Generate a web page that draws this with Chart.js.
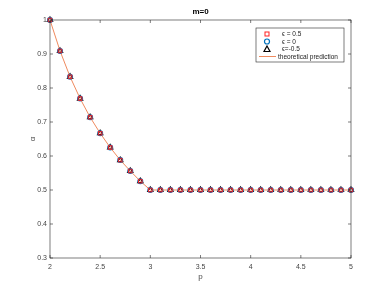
<!DOCTYPE html>
<html>
<head>
<meta charset="utf-8">
<script src="https://cdn.jsdelivr.net/npm/chart.js@4"></script>
<style>
  html, body { margin: 0; padding: 0; background: #fff; }
  #wrap { width: 388px; height: 291px; }
</style>
</head>
<body>
<div id="wrap"><canvas id="chart"></canvas></div>
<script>
// p values and measured alpha for each epsilon
const pValues = [2, 2.1, 2.2, 2.3, 2.4, 2.5, 2.6, 2.7, 2.8, 2.9, 3, 3.1, 3.2, 3.3, 3.4, 3.5,
  3.6, 3.7, 3.8, 3.9, 4, 4.1, 4.2, 4.3, 4.4, 4.5, 4.6, 4.7, 4.8, 4.9, 5];
const alphaEpsPos = [1, 0.909, 0.833, 0.769, 0.714, 0.667, 0.625, 0.588, 0.556, 0.526, 0.5, 0.5,
  0.5, 0.5, 0.5, 0.5, 0.5, 0.5, 0.5, 0.5, 0.5, 0.5, 0.5, 0.5, 0.5, 0.5, 0.5, 0.5, 0.5, 0.5, 0.5];
const alphaEpsZero = [1, 0.909, 0.833, 0.769, 0.714, 0.667, 0.625, 0.588, 0.556, 0.526, 0.5, 0.5,
  0.5, 0.5, 0.5, 0.5, 0.5, 0.5, 0.5, 0.5, 0.5, 0.5, 0.5, 0.5, 0.5, 0.5, 0.5, 0.5, 0.5, 0.5, 0.5];
const alphaEpsNeg = [1, 0.909, 0.833, 0.769, 0.714, 0.667, 0.625, 0.588, 0.556, 0.526, 0.5, 0.5,
  0.5, 0.5, 0.5, 0.5, 0.5, 0.5, 0.5, 0.5, 0.5, 0.5, 0.5, 0.5, 0.5, 0.5, 0.5, 0.5, 0.5, 0.5, 0.5];
const theoryAlpha = [1, 0.909, 0.833, 0.769, 0.714, 0.667, 0.625, 0.588, 0.556, 0.526, 0.5, 0.5,
  0.5, 0.5, 0.5, 0.5, 0.5, 0.5, 0.5, 0.5, 0.5, 0.5, 0.5, 0.5, 0.5, 0.5, 0.5, 0.5, 0.5, 0.5, 0.5];
const seriesLabels = ["\u03f5 = 0.5", "\u03f5 = 0", "\u03f5=-0.5", "theoretical prediction"];
const xTicks = [2, 2.5, 3, 3.5, 4, 4.5, 5];
const yTicks = [0.3, 0.4, 0.5, 0.6, 0.7, 0.8, 0.9, 1];

const FONT = "Liberation Sans, Arial, sans-serif";
const pts = (ys) => pValues.map((p, i) => ({ x: p, y: ys[i] }));
const fmt = (v) => String(Math.round(v * 10) / 10);

// box around the axes + inward ticks + title + legend, matlab style
const matlabFrame = {
  id: "matlabFrame",
  afterDraw(chart) {
    const { ctx, chartArea: a, scales } = chart;
    ctx.save();
    ctx.strokeStyle = "#262626";
    ctx.lineWidth = 0.6;
    ctx.strokeRect(a.left, a.top, a.right - a.left, a.bottom - a.top);
    ctx.beginPath();
    xTicks.forEach((v) => {
      const x = scales.x.getPixelForValue(v);
      ctx.moveTo(x, a.bottom); ctx.lineTo(x, a.bottom - 3);
      ctx.moveTo(x, a.top); ctx.lineTo(x, a.top + 3);
    });
    yTicks.forEach((v) => {
      const y = scales.y.getPixelForValue(v);
      ctx.moveTo(a.left, y); ctx.lineTo(a.left + 3, y);
      ctx.moveTo(a.right, y); ctx.lineTo(a.right - 3, y);
    });
    ctx.stroke();

    // title
    ctx.fillStyle = "#000";
    ctx.font = "bold 8px " + FONT;
    ctx.textAlign = "center";
    ctx.textBaseline = "middle";
    ctx.fillText("m=0", (a.left + a.right) / 2, 12);

    // legend
    const lx = 256, ly = 28, lw = 88, lh = 34;
    ctx.fillStyle = "#fff";
    ctx.fillRect(lx, ly, lw, lh);
    ctx.strokeStyle = "#262626";
    ctx.lineWidth = 0.6;
    ctx.strokeRect(lx, ly, lw, lh);
    ctx.font = "6.5px " + FONT;
    ctx.textAlign = "left";
    const rowY = [ly + 6, ly + 13.5, ly + 21, ly + 28.5];
    chart.data.datasets.forEach((ds, i) => {
      const y = rowY[i];
      const cx = lx + 11;
      ctx.strokeStyle = ds.borderColor;
      ctx.lineWidth = ds.pointBorderWidth || 1;
      if (ds.pointStyle === "rect") {
        ctx.strokeRect(cx - 2, y - 2, 4, 4);
      } else if (ds.pointStyle === "circle") {
        ctx.beginPath(); ctx.arc(cx, y, 2.5, 0, Math.PI * 2); ctx.stroke();
      } else if (ds.pointStyle === "triangle") {
        ctx.beginPath();
        ctx.moveTo(cx, y - 3); ctx.lineTo(cx + 3, y + 2.5); ctx.lineTo(cx - 3, y + 2.5);
        ctx.closePath(); ctx.stroke();
      } else {
        ctx.lineWidth = 1;
        ctx.beginPath(); ctx.moveTo(lx + 3, y); ctx.lineTo(lx + 20, y); ctx.stroke();
      }
      ctx.fillStyle = "#222";
      ctx.fillText(ds.label, i === 3 ? lx + 22 : lx + 26, y + 0.5);
    });
    ctx.restore();
  },
};

new Chart(document.getElementById("chart"), {
  type: "scatter",
  data: {
    datasets: [
      {
        label: seriesLabels[0], data: pts(alphaEpsPos), clip: false,
        pointStyle: "rect", pointRadius: 2.6, pointBorderWidth: 1,
        borderColor: "#ff2020", backgroundColor: "rgba(0,0,0,0)",
      },
      {
        label: seriesLabels[1], data: pts(alphaEpsZero), clip: false,
        pointStyle: "circle", pointRadius: 2.4, pointBorderWidth: 1.2,
        borderColor: "#0072bd", backgroundColor: "rgba(0,0,0,0)",
      },
      {
        label: seriesLabels[2], data: pts(alphaEpsNeg), clip: false,
        pointStyle: "triangle", pointRadius: 3, pointBorderWidth: 1.2,
        borderColor: "#000", backgroundColor: "rgba(0,0,0,0)",
      },
      {
        label: seriesLabels[3], data: pts(theoryAlpha),
        type: "line", showLine: true, pointRadius: 0, borderWidth: 1,
        borderColor: "#ef8a5e", backgroundColor: "#ef8a5e", order: 5,
      },
    ],
  },
  options: {
    responsive: true,
    maintainAspectRatio: false,
    animation: false,
    layout: { padding: { top: 20, right: 37, left: 24, bottom: 5 } },
    plugins: { legend: { display: false }, tooltip: { enabled: false }, title: { display: false } },
    scales: {
      x: {
        type: "linear", min: 2, max: 5,
        grid: { display: false, drawTicks: false },
        border: { display: false },
        afterBuildTicks: (s) => { s.ticks = xTicks.map((v) => ({ value: v })); },
        ticks: { color: "#444", font: { family: FONT, size: 7 }, padding: 5, maxRotation: 0, callback: fmt },
        title: { display: true, text: "p", color: "#444", font: { family: FONT, size: 8 }, padding: { top: 2 } },
        afterFit: (s) => { s.height = 28; },
      },
      y: {
        min: 0.3, max: 1,
        grid: { display: false, drawTicks: false },
        border: { display: false },
        afterBuildTicks: (s) => { s.ticks = yTicks.map((v) => ({ value: v })); },
        ticks: { color: "#444", font: { family: FONT, size: 7 }, padding: 3, callback: fmt },
        title: { display: true, text: "\u03b1", color: "#444", font: { family: FONT, size: 8 }, padding: { bottom: 0 } },
        afterFit: (s) => { s.width = 26; },
      },
    },
  },
  plugins: [matlabFrame],
});
</script>
</body>
</html>
